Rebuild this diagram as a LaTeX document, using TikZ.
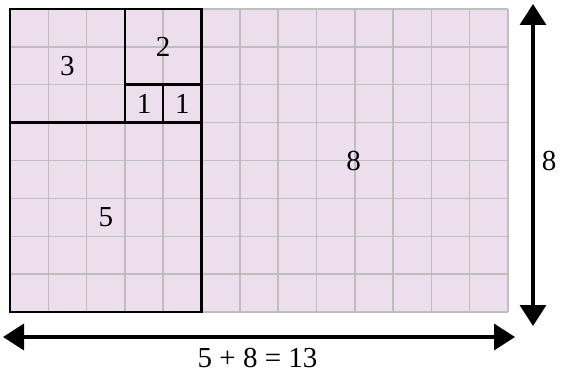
\documentclass[tikz,border=0pt]{standalone}
\usepackage{fontspec}
\setmainfont{Liberation Serif}
\usetikzlibrary{arrows.meta,positioning}
\definecolor{cellpink}{RGB}{237,222,237}
\definecolor{gridgray}{RGB}{190,190,190}

\begin{document}
\begin{tikzpicture}[
    x=1pt, y=-1pt,
    font=\fontsize{29}{34}\selectfont,
    gridline/.style={draw=gridgray, line width=1.5pt},
    sq/.style={draw, line width=2.5pt, inner sep=0pt, outer sep=0pt},
    dbl/.style={line width=3.5pt, {Triangle[length=21pt,width=26pt]}-{Triangle[length=21pt,width=26pt]}}
]
\useasboundingbox (0,0) rectangle (562,374);

% background and grid
\fill[cellpink] (10,9) rectangle (508,312);
\foreach \i in {0,...,13}
    \draw[gridline] ({10+\i*38.31},9) -- ({10+\i*38.31},312);
\foreach \j in {0,...,8}
    \draw[gridline] (10,{9+\j*37.875}) -- (508,{9+\j*37.875});

% squares
\node[sq, minimum width=114.93pt, minimum height=113.625pt] (s3) at (67.47,65.81) {3};
\node[sq, minimum width=76.62pt, minimum height=75.75pt] (s2) at (163.24,46.875) {2};
\node[sq, minimum width=38.31pt, minimum height=37.875pt] (s1a) at (144.09,103.69) {1};
\node[sq, minimum width=38.31pt, minimum height=37.875pt] (s1b) at (182.4,103.69) {1};
\node[sq, minimum width=191.55pt, minimum height=189.375pt] (s5) at (105.78,217.31) {5};
\node (s8) at (353.5,160.5) {8};

% dimensions
\coordinate (vtop) at (533,4);
\coordinate (vbot) at (533,326);
\coordinate (hleft) at (3,337);
\coordinate (hright) at (515,337);
\draw[dbl] (vtop) -- (vbot);
\draw[dbl] (hleft) -- (hright);
\node (side) at (549,160.5) {8};
\node (sum) at (257.5,358) {5 + 8 = 13};
\end{tikzpicture}
\end{document}
